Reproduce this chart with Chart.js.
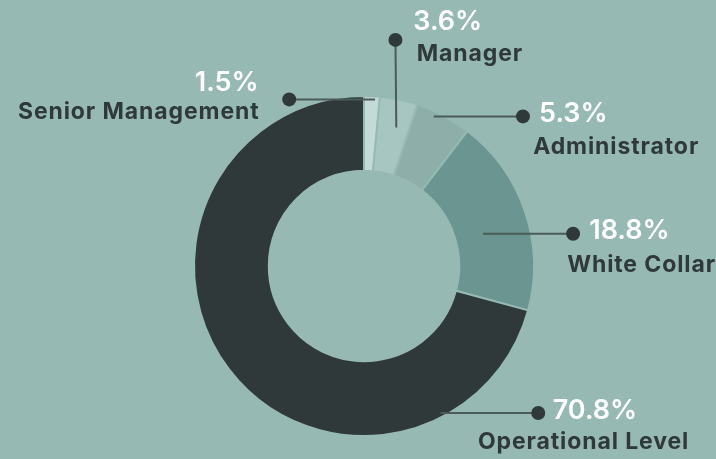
<!DOCTYPE html>
<html lang="en">
<head>
    <meta charset="UTF-8">
    <title>Workforce by level</title>
    <script src="https://cdn.jsdelivr.net/npm/chart.js"></script>
    <style>
        html, body { margin: 0; padding: 0; background: #97b9b4; }
        #wrap { width: 716px; height: 459px; position: relative; }
    </style>
</head>
<body>
    <div id="wrap">
        <canvas id="grafico"></canvas>
    </div>

    <script>
        // data
        const categorias = ['Senior Management', 'Manager', 'Administrator', 'White Collar', 'Operational Level'];
        const percentuais = [1.5, 3.6, 5.3, 18.8, 70.8];
        const cores = ['#c3dad6', '#a8c6c1', '#8eaeaa', '#6a9591', '#2f393a'];

        // label layout, relative to the doughnut centre, in units of outer radius
        // line: from (sx,sy) inside slice to the dot (dx,dy); text anchored next to the dot
        const rotulos = [
            { sx: 0.065, sy: -0.98, dx: -0.44, dy: -0.98, align: 'right', tx: -0.62, py: -1.08, ly: -0.905 },
            { sx: 0.19,  sy: -0.815, dx: 0.185, dy: -1.33, align: 'left', tx: 0.29, py: -1.435, ly: -1.245, lx: 0.31 },
            { sx: 0.41,  sy: -0.88, dx: 0.935, dy: -0.88, align: 'left', tx: 1.03, py: -0.895, ly: -0.70, lx: 0.995 },
            { sx: 0.70,  sy: -0.19, dx: 1.23, dy: -0.19, align: 'left', tx: 1.325, py: -0.205, ly: -0.005, lx: 1.195 },
            { sx: 0.45,  sy: 0.865, dx: 1.025, dy: 0.865, align: 'left', tx: 1.11, py: 0.85, ly: 1.035, lx: 0.67 }
        ];

        const fonte = 'Inter, "Open Sans", sans-serif';

        const rotulosPlugin = {
            id: 'rotulos',
            afterDatasetsDraw(chart) {
                const ctx = chart.ctx;
                const arcos = chart.getDatasetMeta(0).data;
                if (!arcos.length) return;
                const cx = arcos[0].x, cy = arcos[0].y, r = arcos[0].outerRadius;
                ctx.save();
                rotulos.forEach((l, i) => {
                    const x0 = cx + l.sx * r, y0 = cy + l.sy * r;
                    const x1 = cx + l.dx * r, y1 = cy + l.dy * r;
                    ctx.strokeStyle = '#4a5b59';
                    ctx.lineWidth = 2;
                    ctx.beginPath();
                    ctx.moveTo(x0, y0);
                    ctx.lineTo(x1, y1);
                    ctx.stroke();
                    ctx.fillStyle = '#2f393a';
                    ctx.beginPath();
                    ctx.arc(x1, y1, 7, 0, Math.PI * 2);
                    ctx.fill();

                    ctx.textAlign = l.align;
                    ctx.textBaseline = 'middle';
                    ctx.fillStyle = '#ffffff';
                    ctx.letterSpacing = '0px';
                    ctx.font = '600 27px ' + fonte;
                    ctx.fillText(percentuais[i].toFixed(1) + '%', cx + l.tx * r, cy + l.py * r);
                    ctx.fillStyle = '#2f393a';
                    ctx.font = '700 23px ' + fonte;
                    ctx.letterSpacing = '0.9px';
                    const lx = l.lx !== undefined ? l.lx : l.tx;
                    ctx.fillText(categorias[i], cx + lx * r + (l.align === 'right' ? 1 : 0), cy + l.ly * r);
                });
                ctx.restore();
            }
        };

        new Chart(document.getElementById('grafico'), {
            type: 'doughnut',
            data: {
                labels: categorias,
                datasets: [{
                    data: percentuais,
                    backgroundColor: cores,
                    borderColor: '#97b9b4',
                    borderWidth: 2
                }]
            },
            options: {
                responsive: true,
                maintainAspectRatio: false,
                animation: false,
                cutout: '56%',
                layout: { padding: { top: 95, bottom: 22, left: 12, right: 0 } },
                plugins: {
                    legend: { display: false },
                    tooltip: { enabled: false }
                }
            },
            plugins: [rotulosPlugin]
        });
    </script>
</body>
</html>
